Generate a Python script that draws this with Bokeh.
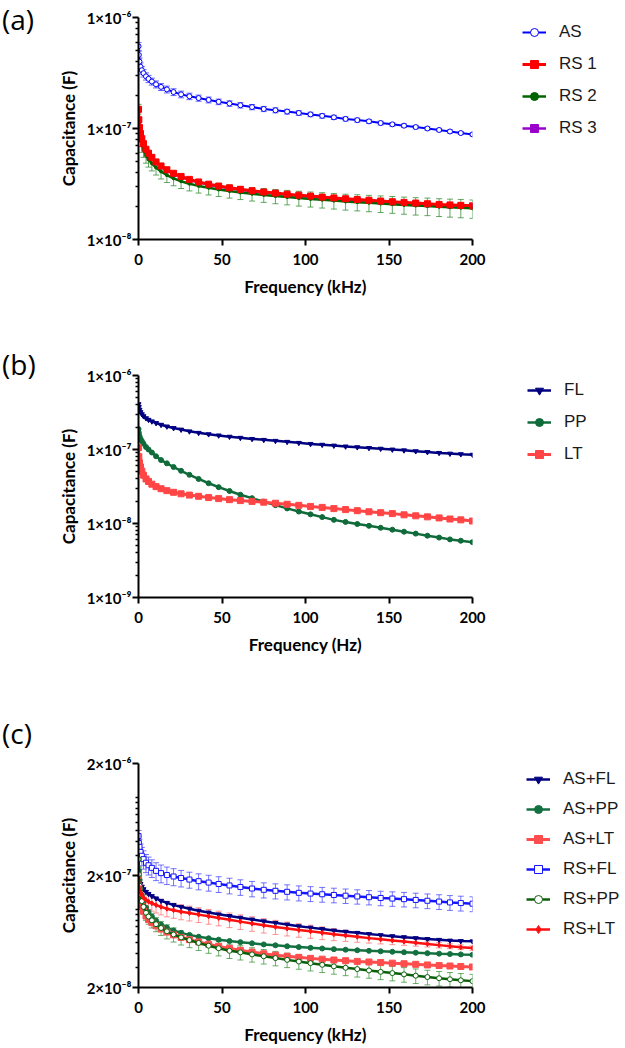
from bokeh.plotting import figure
from bokeh.models import (Range1d, FixedTicker, Legend, LegendItem, Whisker, TeeHead,
                          ColumnDataSource, Div)
from bokeh.layouts import column, row
from bokeh.embed import file_html
from bokeh.resources import INLINE

# ---------------- data (frequency in kHz, capacitance in nF) ----------------
FREQ_KHZ = [0.02, 0.2, 0.6, 1.2, 2, 3, 4.5, 6, 8, 10.5, 13.5, 17, 21, 25.5, 30.5, 36, 42, 48,
            54.5, 61, 68, 75, 82, 89, 96, 103, 110, 117, 124, 131, 138, 145, 152, 159, 166,
            173, 180, 186.5, 193, 200]
X_TICKS = [0, 50, 100, 150, 200]

# panel (a)
AS_nF = [550, 460, 400, 360, 335, 315, 295, 280, 265, 250, 237, 225, 213, 203, 195, 188, 181,
         174, 168, 162, 156, 150, 146, 142, 138, 134, 130, 126, 122, 119, 116, 112, 109, 106,
         103, 100, 97, 94, 91, 88.5]
AS_err = [44, 37, 32, 29, 26, 24, 22, 21, 19, 18, 17, 16, 15, 14, 13, 12, 11, 10, 9.5, 9, 8.5,
          8, 7.5, 7, 6.6, 6.2, 5.8, 5.5, 5.2, 4.9, 4.6, 4.3, 4, 3.8, 3.6, 3.4, 3.2, 3, 2.8, 2.7]
RS1_nF = [149, 120, 102, 90, 81, 73, 65, 60, 55, 50, 46, 42.5, 39.5, 37, 34.8, 33, 31.5, 30.3,
          29.2, 28.3, 27.5, 26.8, 26.2, 25.6, 25.1, 24.6, 24.1, 23.7, 23.3, 22.9, 22.6, 22.2,
          21.9, 21.6, 21.3, 21.0, 20.7, 20.5, 20.3, 20.1]
RS2_nF = [150, 112, 92, 80, 71, 64, 57, 52.5, 48.5, 44.5, 41, 38, 35.5, 33.5, 31.8, 30.4, 29.2,
          28.2, 27.3, 26.5, 25.8, 25.2, 24.6, 24.1, 23.6, 23.2, 22.8, 22.4, 22.0, 21.7, 21.4,
          21.1, 20.8, 20.5, 20.2, 20.0, 19.7, 19.5, 19.3, 19.1]
RS2_err = [15, 13, 12, 11, 10, 9, 8.3, 7.6, 7, 6.4, 5.9, 5.4, 5.0, 4.7, 4.4, 4.2, 4.0, 3.8, 3.7,
           3.6, 3.6, 3.6, 3.6, 3.6, 3.6, 3.6, 3.6, 3.6, 3.6, 3.6, 3.6, 3.6, 3.6, 3.6, 3.6, 3.6,
           3.6, 3.6, 3.6, 3.6]
RS3_nF = [148, 118, 100, 88, 79.5, 72, 64.5, 59.5, 54.5, 49.5, 45.5, 42, 39, 36.6, 34.4, 32.7,
          31.2, 30.0, 28.9, 28.0, 27.2, 26.5, 25.9, 25.3, 24.8, 24.3, 23.9, 23.5, 23.1, 22.7,
          22.4, 22.0, 21.7, 21.4, 21.1, 20.8, 20.5, 20.3, 20.1, 19.9]

# panel (b)
FL_nF = [410, 375, 345, 320, 300, 282, 265, 252, 240, 228, 216, 205, 195, 186, 176, 168, 161,
         155, 149, 144, 139, 135, 131, 127, 123, 119, 116, 113, 110, 107.5, 105, 102.5, 100,
         97.5, 95, 92.5, 90, 88, 86.5, 85]
PP_nF = [189, 168, 152, 140, 130, 120, 108, 100, 91, 81, 72, 65, 58, 51.5, 45.5, 40, 35, 31,
         27.5, 24.5, 22, 19.7, 17.7, 16.0, 14.5, 13.3, 12.2, 11.2, 10.5, 9.85, 9.3, 8.75, 8.25,
         7.75, 7.3, 6.85, 6.45, 6.1, 5.85, 5.6]
LT_nF = [106, 80, 66, 58, 51, 45, 40, 37, 34, 31.5, 29.5, 27.8, 26.4, 25.2, 24.2, 23.3, 22.4,
         21.7, 21.0, 20.4, 19.9, 19.4, 18.8, 18.2, 17.6, 17.0, 16.5, 15.9, 15.4, 14.9, 14.4,
         14.0, 13.6, 13.1, 12.7, 12.3, 11.9, 11.5, 11.2, 10.8]

# panel (c)
ASFL_nF = [220, 195, 180, 168, 159, 151, 143, 137, 131, 125, 119, 114, 109, 105, 101, 97, 93.5,
           90, 87, 84, 81, 78, 75.5, 73, 70.5, 68.5, 66.5, 64.5, 63, 61.5, 60, 58.7, 57.5, 56.3,
           55.2, 54.2, 53.3, 52.5, 52, 51.7]
ASPP_nF = [285, 220, 180, 152, 132, 117, 103, 94, 86, 79, 73, 68.5, 64.5, 61.5, 59, 56.8, 55,
           53.5, 52, 50.8, 49.6, 48.5, 47.6, 46.7, 45.9, 45.2, 44.6, 44.0, 43.5, 43.0, 42.5,
           42.1, 41.7, 41.3, 40.9, 40.5, 40.1, 39.8, 39.5, 39.2]
ASLT_nF = [200, 160, 135, 118, 106, 96, 87, 81, 76, 71, 66.5, 62.5, 59, 56, 53.5, 51, 48.7,
           46.6, 44.7, 43.0, 41.4, 40.0, 38.9, 38.0, 37.2, 36.4, 35.8, 35.2, 34.7, 34.2, 33.8,
           33.4, 33.0, 32.6, 32.2, 31.8, 31.4, 31.1, 30.8, 30.5]
RSFL_nF = [450, 390, 360, 325, 300, 280, 260, 247, 234, 220, 210, 202, 196, 190, 184, 178, 173,
           168, 163, 158, 153, 149, 146, 143, 140, 138, 136, 134, 132, 130, 128, 126, 124.5,
           123, 121, 119, 117, 115, 113.5, 112]
RSFL_err = [55, 60, 60, 58, 56, 52, 48, 45, 42, 40, 38, 36, 34, 32, 30, 29, 28, 27, 26, 25, 24,
            23, 22.5, 22, 21.5, 21, 20.5, 20, 19.5, 19, 18.8, 18.6, 18.4, 18.2, 18, 17.8, 17.6,
            17.4, 17.2, 17]
RSPP_nF = [280, 205, 162, 136, 118, 105, 93, 86, 79.5, 73.5, 68, 63.5, 59.5, 56, 53, 50, 47.2,
           44.8, 42.5, 41.2, 39.5, 38, 36.6, 35.3, 34.1, 33, 31.9, 30.9, 30, 29.2, 28.4, 27.6,
           26.9, 26.2, 25.5, 24.8, 24.2, 23.7, 23.2, 22.8]
RSPP_err = [40, 30, 24, 20, 17, 15, 13.5, 12.5, 11.5, 10.5, 9.8, 9.2, 8.6, 8.1, 7.6, 7.2, 6.8,
            6.5, 6.2, 6, 5.8, 5.6, 5.4, 5.2, 5.0, 4.9, 4.7, 4.6, 4.5, 4.4, 4.2, 4.1, 4.0, 3.9,
            3.8, 3.7, 3.6, 3.5, 3.45, 3.4]
RSLT_nF = [175, 160, 148, 140, 133, 127, 121, 117, 113, 109, 105, 101, 98, 95, 92.5, 89.5, 86.5,
           83.5, 80.5, 77.5, 74.5, 71.8, 69.5, 67.2, 65.2, 63.5, 61.5, 59.7, 58.2, 56.7, 55.2,
           53.8, 52.6, 51.4, 50.2, 49, 47.8, 46.8, 45.8, 45]
RSLT_err = [25, 24, 22, 21, 20, 19, 18, 17.5, 17, 16.5, 16, 15.5, 15, 14.5, 14, 13.5, 13, 12.5,
            12, 11.5, 11, 10.5, 10, 9.5, 9, 8.5, 8, 7.3, 6.6, 6, 5.4, 4.8, 4.3, 3.8, 3.4, 3,
            2.7, 2.4, 2.2, 2]

SUP = str.maketrans("-0123456789", "⁻⁰¹²³⁴⁵⁶⁷⁸⁹")
TAG_W = 40


def tick_label(m, e):
    return f"{m}\u00d710" + str(e).translate(SUP)


def to_f(vals):
    return [v * 1e-9 for v in vals]


def make_fig(top, frame_h, bottom, ylo, yhi, mant, exps, x_title):
    p = figure(frame_width=334, frame_height=frame_h, min_border_left=138 - TAG_W,
               min_border_right=151, min_border_top=top, min_border_bottom=bottom,
               x_range=Range1d(0, 200), y_range=Range1d(ylo, yhi), y_axis_type="log",
               output_backend="svg", toolbar_location=None)
    p.outline_line_color = None
    p.grid.visible = False
    majors = [mant * 10.0 ** e for e in exps]
    minors = []
    for e in range(min(exps) - 1, max(exps) + 1):
        for k in range(1, 10):
            v = k * 10.0 ** e
            if ylo < v < yhi and all(abs(v / m - 1) > 1e-6 for m in majors):
                minors.append(v)
    p.xaxis.ticker = FixedTicker(ticks=X_TICKS)
    p.yaxis.ticker = FixedTicker(ticks=majors, minor_ticks=minors)
    p.yaxis.major_label_overrides = {m: tick_label(mant, e) for m, e in zip(majors, exps)}
    for ax in (p.xaxis[0], p.yaxis[0]):
        ax.axis_line_width = 2
        ax.axis_line_color = "black"
        ax.major_tick_line_width = 2
        ax.major_tick_line_color = "black"
        ax.major_tick_in = 0
        ax.major_tick_out = 6
        ax.minor_tick_in = 0
        ax.major_label_text_font = "Lato"
        ax.major_label_text_font_style = "bold"
        ax.major_label_text_font_size = "15px"
        ax.major_label_text_color = "black"
        ax.axis_label_text_font = "Lato"
        ax.axis_label_text_font_style = "bold"
        ax.axis_label_text_font_size = "17px"
        ax.axis_label_text_color = "black"
    p.xaxis.minor_tick_out = 0
    p.xaxis.minor_tick_line_color = None
    p.xaxis.major_label_standoff = 8
    p.xaxis.axis_label_standoff = 8
    p.xaxis.axis_label = x_title
    p.yaxis.minor_tick_out = 3
    p.yaxis.minor_tick_line_width = 1.5
    p.yaxis.minor_tick_line_color = "black"
    p.yaxis.major_label_standoff = 1
    p.yaxis.axis_label_standoff = 5
    p.yaxis.axis_label = "Capacitance (F)"
    return p


def series(p, y_nf, color, marker, size, lw, name, open_marker=False, err=None,
           err_color=None, err_alpha=0.7):
    y = to_f(y_nf)
    data = dict(x=FREQ_KHZ, y=y)
    if err is not None:
        data["lo"] = [a - b for a, b in zip(y, to_f(err))]
        data["hi"] = [a + b for a, b in zip(y, to_f(err))]
    src = ColumnDataSource(data)
    if err is not None:
        ec = err_color or color
        w = Whisker(source=src, base="x", upper="hi", lower="lo", line_color=ec,
                    line_alpha=err_alpha, line_width=1, level="underlay")
        w.upper_head = TeeHead(size=6, line_color=ec, line_alpha=err_alpha, line_width=1)
        w.lower_head = TeeHead(size=6, line_color=ec, line_alpha=err_alpha, line_width=1)
        p.add_layout(w)
    r1 = p.line("x", "y", source=src, line_color=color, line_width=lw)
    r2 = p.scatter("x", "y", source=src, marker=marker, size=size, line_color=color,
                   line_width=1, fill_color="white" if open_marker else color)
    return LegendItem(label=name, renderers=[r1, r2])


def add_legend(p, items, vx, vy, spacing):
    leg = Legend(items=items, location=(vx, vy), orientation="vertical",
                 label_text_font="Liberation Sans", label_text_font_size="17px",
                 label_text_color="#1a1a1a", glyph_width=24, glyph_height=20, label_height=20,
                 label_standoff=13, spacing=spacing, padding=0, margin=0,
                 border_line_alpha=0, background_fill_alpha=0)
    p.add_layout(leg, "right")


def tag(text, height, pad_top):
    html = ('<div style="font-family:\'Open Sans\';font-size:28px;line-height:39px;'
            f'color:black;padding:{pad_top}px 0 0 2px;margin:0">{text}</div>')
    return Div(text=html, width=TAG_W, height=height, margin=0)


# ---------------- panel (a) ----------------
HA = 300
pa = make_fig(17, 222, 61, 1e-8, 1e-6, 1, [-8, -7, -6], "Frequency (kHz)")
it_as = series(pa, AS_nF, "#0000ff", "circle", 5, 2, "AS", open_marker=True, err=AS_err,
               err_alpha=0.6)
it_rs3 = series(pa, RS3_nF, "#9900cc", "square", 5, 2.5, "RS 3")
it_rs2 = series(pa, RS2_nF, "#006400", "circle", 3, 2.5, "RS 2", err=RS2_err,
                err_color="#2e8b2e", err_alpha=0.75)
it_rs1 = series(pa, RS1_nF, "#ff0000", "square", 6, 3, "RS 1")
add_legend(pa, [it_as, it_rs1, it_rs2, it_rs3], 50, 101, 12)

# ---------------- panel (b) ----------------
HB = 390
pb = make_fig(75, 222, 93, 1e-9, 1e-6, 1, [-9, -8, -7, -6], "Frequency (Hz)")
it_fl = series(pb, FL_nF, "#000080", "inverted_triangle", 5, 2.5, "FL")
it_pp = series(pb, PP_nF, "#0f6b3a", "circle", 5, 2.5, "PP")
it_lt = series(pb, LT_nF, "#ff4545", "square", 6, 3, "LT")
add_legend(pb, [it_fl, it_pp, it_lt], 55, 133, 12)

# ---------------- panel (c) ----------------
HC = 356
pc = make_fig(73, 224, 59, 2e-8, 2e-6, 2, [-8, -7, -6], "Frequency (kHz)")
it1 = series(pc, ASFL_nF, "#000080", "inverted_triangle", 5, 2.5, "AS+FL")
it2 = series(pc, ASPP_nF, "#137040", "circle", 5, 2.5, "AS+PP")
it3 = series(pc, ASLT_nF, "#ff4d4d", "square", 6, 3, "AS+LT")
it4 = series(pc, RSFL_nF, "#1515ff", "square", 5, 2.5, "RS+FL", open_marker=True,
             err=RSFL_err, err_color="#3a3aff", err_alpha=0.7)
it5 = series(pc, RSPP_nF, "#0a600a", "circle", 5, 2.5, "RS+PP", open_marker=True,
             err=RSPP_err, err_color="#2e8b2e", err_alpha=0.7)
it6 = series(pc, RSLT_nF, "#ff1010", "diamond", 5, 2.5, "RS+LT", err=RSLT_err,
             err_color="#ff4040", err_alpha=0.55)
add_legend(pc, [it1, it2, it3, it4, it5, it6], 54, 48, 10)

layout = column(
    row(tag("(a)", HA, 0), pa, spacing=0),
    row(tag("(b)", HB, 45), pb, spacing=0),
    row(tag("(c)", HC, 24), pc, spacing=0),
    spacing=0,
)
open("out.html", "w").write(file_html(layout, INLINE))
